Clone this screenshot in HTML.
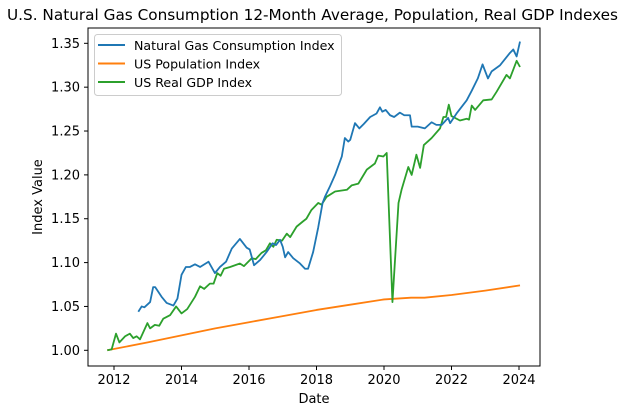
<!DOCTYPE html>
<html><head><meta charset="utf-8"><style>
html,body{margin:0;padding:0;background:#fff;}
svg text{font-family:"DejaVu Sans","Liberation Sans",sans-serif;fill:#000;}
</style></head><body>
<svg id="chart" width="627" height="414" viewBox="0 0 627 414" xmlns="http://www.w3.org/2000/svg">
<text x="7" y="20" font-size="15.5" textLength="611" lengthAdjust="spacingAndGlyphs">U.S. Natural Gas Consumption 12-Month Average, Population, Real GDP Indexes</text>
<g id="plot"></g>
<rect x="88" y="28" width="452" height="338" fill="none" stroke="#000" stroke-width="1"/>
<g id="axes"></g>
<text x="314" y="403" font-size="13" text-anchor="middle">Date</text>
<text x="0" y="0" font-size="13" text-anchor="middle" transform="translate(42,197) rotate(-90)">Index Value</text>
<g>
<rect x="94.5" y="34.5" width="247" height="61" rx="3" fill="#fff" fill-opacity="0.8" stroke="#ccc"/>
<line x1="98" y1="45" x2="125" y2="45" stroke="#1f77b4" stroke-width="2"/>
<text x="134" y="50" font-size="12.6">Natural Gas Consumption Index</text>
<line x1="98" y1="63.5" x2="125" y2="63.5" stroke="#ff7f0e" stroke-width="2"/>
<text x="134" y="68.5" font-size="12.6">US Population Index</text>
<line x1="98" y1="82" x2="125" y2="82" stroke="#2ca02c" stroke-width="2"/>
<text x="134" y="87" font-size="12.6">US Real GDP Index</text>
</g>
</svg>
<script>
const gasDates=[2012.72,2012.82,2012.9,2013.07,2013.16,2013.22,2013.41,2013.56,2013.76,2013.88,2014.0,2014.13,2014.25,2014.4,2014.55,2014.8,2014.99,2015.14,2015.32,2015.49,2015.73,2015.93,2016.02,2016.15,2016.33,2016.52,2016.7,2016.8,2016.92,2017.0,2017.07,2017.16,2017.31,2017.51,2017.66,2017.75,2017.9,2018.05,2018.18,2018.25,2018.4,2018.55,2018.75,2018.84,2018.94,2019.0,2019.14,2019.27,2019.4,2019.59,2019.78,2019.88,2019.95,2020.05,2020.18,2020.3,2020.47,2020.6,2020.77,2020.82,2021.0,2021.21,2021.41,2021.55,2021.71,2021.9,2021.96,2022.15,2022.45,2022.6,2022.78,2022.92,2023.08,2023.19,2023.44,2023.73,2023.83,2023.93,2024.03];
const gasValues=[1.044,1.05,1.049,1.055,1.072,1.072,1.061,1.054,1.051,1.059,1.086,1.095,1.095,1.098,1.095,1.101,1.088,1.095,1.101,1.116,1.127,1.117,1.115,1.097,1.103,1.112,1.122,1.12,1.126,1.118,1.106,1.112,1.105,1.099,1.093,1.093,1.112,1.14,1.168,1.175,1.187,1.2,1.221,1.242,1.238,1.24,1.259,1.253,1.258,1.266,1.27,1.277,1.272,1.274,1.268,1.266,1.271,1.268,1.268,1.255,1.255,1.253,1.26,1.257,1.257,1.265,1.259,1.27,1.285,1.296,1.31,1.326,1.31,1.318,1.325,1.339,1.343,1.335,1.352];
const popDates=[2011.8,2013,2014,2015,2016,2017,2018,2019,2020,2020.8,2021.2,2022,2023,2024.03];
const popValues=[1.0,1.009,1.017,1.025,1.032,1.039,1.046,1.052,1.058,1.06,1.06,1.063,1.068,1.074];
const gdpDates=[2011.8,2011.93,2012.06,2012.16,2012.33,2012.47,2012.57,2012.67,2012.77,2012.99,2013.07,2013.21,2013.34,2013.46,2013.66,2013.84,2014.0,2014.17,2014.4,2014.55,2014.67,2014.84,2014.95,2015.06,2015.16,2015.26,2015.44,2015.73,2015.85,2016.08,2016.2,2016.37,2016.5,2016.62,2016.72,2016.82,2016.98,2017.12,2017.22,2017.41,2017.6,2017.7,2017.85,2018.05,2018.15,2018.3,2018.55,2018.9,2019.04,2019.24,2019.49,2019.73,2019.83,2019.98,2020.08,2020.25,2020.43,2020.52,2020.72,2020.82,2020.96,2021.07,2021.18,2021.41,2021.66,2021.76,2021.84,2021.92,2022.0,2022.25,2022.45,2022.52,2022.6,2022.7,2022.94,2023.19,2023.34,2023.63,2023.73,2023.93,2024.03];
const gdpValues=[1.0,1.001,1.019,1.009,1.016,1.019,1.014,1.016,1.0125,1.031,1.025,1.029,1.028,1.036,1.04,1.05,1.042,1.047,1.061,1.073,1.07,1.076,1.076,1.088,1.085,1.093,1.095,1.099,1.096,1.105,1.104,1.111,1.114,1.122,1.118,1.126,1.125,1.133,1.129,1.141,1.147,1.15,1.16,1.168,1.166,1.175,1.181,1.183,1.188,1.19,1.206,1.213,1.222,1.221,1.225,1.055,1.168,1.183,1.209,1.2,1.223,1.208,1.234,1.242,1.253,1.266,1.266,1.28,1.267,1.262,1.264,1.263,1.279,1.274,1.285,1.286,1.295,1.314,1.31,1.33,1.323];
const xTicks=[2012,2014,2016,2018,2020,2022,2024];
const yTicks=[1.00,1.05,1.10,1.15,1.20,1.25,1.30,1.35];

const NS='http://www.w3.org/2000/svg';
function xScale(d){return 114+(d-2012)*33.75;}
function yScale(v){return 350.3-(v-1)*877.1;}
const plot=document.getElementById('plot');
const axes=document.getElementById('axes');
function drawLine(dates,vals,color,name){
  const p=document.createElementNS(NS,'polyline');
  p.setAttribute('points',dates.map((d,i)=>xScale(d).toFixed(2)+','+yScale(vals[i]).toFixed(2)).join(' '));
  p.setAttribute('fill','none');p.setAttribute('stroke',color);p.setAttribute('stroke-width','1.8');p.setAttribute('stroke-linejoin','round');
  
  
  plot.appendChild(p);
}
drawLine(popDates,popValues,'#ff7f0e','population-line');
drawLine(gdpDates,gdpValues,'#2ca02c','gdp-line');
drawLine(gasDates,gasValues,'#1f77b4','gas-consumption-line');
xTicks.forEach(t=>{
  const x=xScale(t);
  const l=document.createElementNS(NS,'line');
  l.setAttribute('x1',x);l.setAttribute('x2',x);l.setAttribute('y1',366);l.setAttribute('y2',370);l.setAttribute('stroke','#000');
  
  
  axes.appendChild(l);
  const tx=document.createElementNS(NS,'text');
  tx.setAttribute('x',x);tx.setAttribute('y',384);tx.setAttribute('font-size','13');tx.setAttribute('text-anchor','middle');
  tx.textContent=t;
  
  
  axes.appendChild(tx);
});
yTicks.forEach(t=>{
  const y=yScale(t);
  const l=document.createElementNS(NS,'line');
  l.setAttribute('x1',84);l.setAttribute('x2',88);l.setAttribute('y1',y);l.setAttribute('y2',y);l.setAttribute('stroke','#000');
  
  
  axes.appendChild(l);
  const tx=document.createElementNS(NS,'text');
  tx.setAttribute('x',80);tx.setAttribute('y',y+4.5);tx.setAttribute('font-size','13');tx.setAttribute('text-anchor','end');
  tx.textContent=t.toFixed(2);
  
  
  axes.appendChild(tx);
});
</script>
</body></html>
